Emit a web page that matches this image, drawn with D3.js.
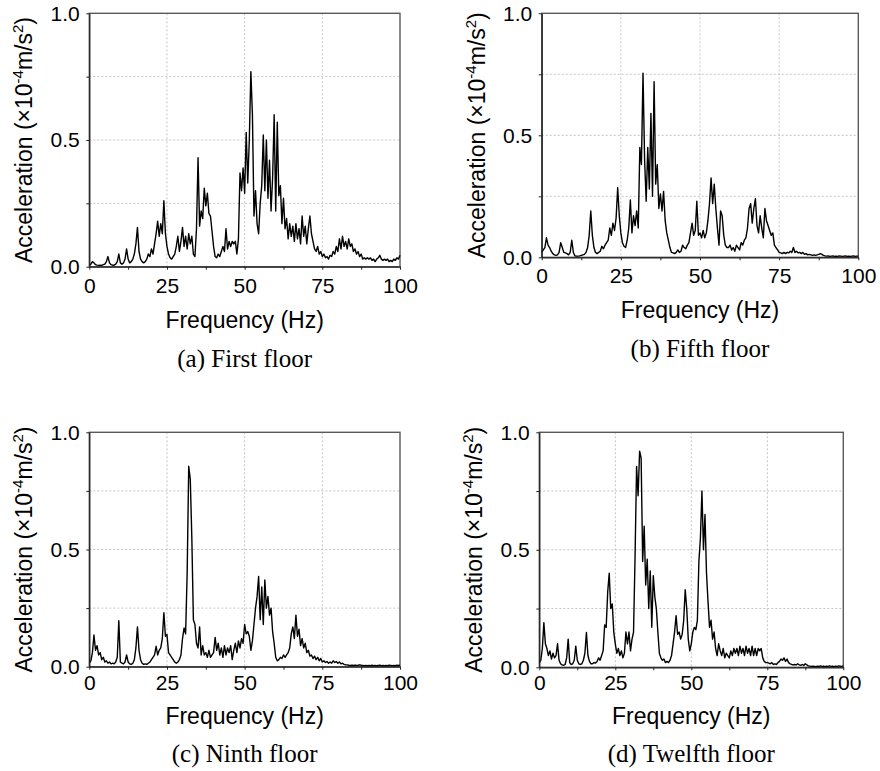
<!DOCTYPE html>
<html>
<head>
<meta charset="utf-8">
<script src="https://cdn.jsdelivr.net/npm/d3@7"></script>
<style>
  body { margin: 0; background: #fff; }
  svg { display: block; }
</style>
</head>
<body>
<div id="chart"></div>
<script>
// frequency grid in Hz (0.5 Hz step)
const freqs = d3.range(0, 100.01, 0.5);

const firstFloor = [
  0.005, 0.01, 0.02, 0.015, 0.008, 0.006, 0.005, 0.006, 0.005, 0.008,
  0.01, 0.02, 0.04, 0.015, 0.008, 0.006, 0.006, 0.01, 0.02, 0.05,
  0.015, 0.01, 0.015, 0.03, 0.07, 0.03, 0.015, 0.02, 0.03, 0.05,
  0.09, 0.155, 0.06, 0.03, 0.02, 0.015, 0.02, 0.03, 0.05, 0.04,
  0.07, 0.05, 0.09, 0.13, 0.18, 0.12, 0.17, 0.13, 0.26, 0.13,
  0.08, 0.05, 0.035, 0.03, 0.04, 0.05, 0.08, 0.12, 0.06, 0.1,
  0.155, 0.08, 0.12, 0.07, 0.13, 0.09, 0.12, 0.05, 0.04, 0.15,
  0.43, 0.16, 0.22, 0.19, 0.31, 0.24, 0.29, 0.21, 0.2, 0.14,
  0.08, 0.04, 0.035, 0.05, 0.04, 0.06, 0.08, 0.06, 0.15, 0.07,
  0.1, 0.08, 0.1, 0.09, 0.1, 0.05, 0.11, 0.37, 0.3, 0.39,
  0.29, 0.53, 0.33, 0.5, 0.77, 0.6, 0.2, 0.3, 0.17, 0.13,
  0.25, 0.32, 0.52, 0.3, 0.5, 0.27, 0.42, 0.22, 0.35, 0.6,
  0.22, 0.57, 0.28, 0.32, 0.17, 0.27, 0.15, 0.19, 0.11, 0.17,
  0.12, 0.16, 0.1, 0.17, 0.11, 0.15, 0.09, 0.2, 0.12, 0.16,
  0.09, 0.15, 0.2, 0.13, 0.1, 0.07, 0.06, 0.08, 0.05, 0.06,
  0.04, 0.05, 0.035, 0.04, 0.03, 0.045, 0.04, 0.06, 0.05, 0.08,
  0.06, 0.11, 0.07, 0.12, 0.08, 0.1, 0.07, 0.11, 0.08, 0.09,
  0.06, 0.07, 0.05, 0.06, 0.04, 0.05, 0.03, 0.035, 0.03, 0.035,
  0.03, 0.035, 0.025, 0.03, 0.02, 0.03, 0.035, 0.045, 0.03, 0.025,
  0.03, 0.025, 0.03, 0.02, 0.025, 0.02, 0.03, 0.025, 0.035, 0.03,
  0.045
];

const fifthFloor = [
  0.02, 0.03, 0.04, 0.08, 0.05, 0.04, 0.025, 0.015, 0.01, 0.008,
  0.01, 0.02, 0.06, 0.04, 0.02, 0.018, 0.015, 0.01, 0.02, 0.07,
  0.02, 0.006, 0.005, 0.005, 0.006, 0.008, 0.01, 0.012, 0.02, 0.04,
  0.09, 0.19, 0.09, 0.04, 0.02, 0.015, 0.02, 0.025, 0.045, 0.035,
  0.05, 0.06, 0.07, 0.12, 0.09, 0.14, 0.11, 0.16, 0.285, 0.17,
  0.1, 0.06, 0.045, 0.04, 0.07, 0.12, 0.235, 0.1, 0.17, 0.13,
  0.19, 0.12, 0.45, 0.38, 0.755, 0.4, 0.23, 0.45, 0.28, 0.59,
  0.25, 0.72, 0.3, 0.38, 0.2, 0.26, 0.19, 0.27, 0.15, 0.1,
  0.07, 0.04, 0.02, 0.018, 0.015, 0.02, 0.03, 0.02, 0.025, 0.05,
  0.04, 0.035, 0.05, 0.06, 0.1, 0.14, 0.09, 0.11, 0.23, 0.09,
  0.1, 0.08, 0.11, 0.08, 0.1, 0.15, 0.22, 0.325, 0.22, 0.3,
  0.2, 0.12, 0.05, 0.19, 0.17, 0.09, 0.05, 0.04, 0.04, 0.05,
  0.03, 0.04, 0.025, 0.05, 0.04, 0.03, 0.06, 0.05, 0.07, 0.08,
  0.12, 0.2, 0.22, 0.14, 0.2, 0.24, 0.13, 0.1, 0.17, 0.12,
  0.08, 0.2, 0.15, 0.13, 0.11, 0.09, 0.1, 0.05, 0.04, 0.03,
  0.02, 0.018, 0.015, 0.02, 0.015, 0.02, 0.018, 0.025, 0.02, 0.04,
  0.02, 0.025, 0.018, 0.02, 0.015, 0.02, 0.012, 0.015, 0.01, 0.012,
  0.01, 0.008, 0.01, 0.008, 0.01, 0.012, 0.015, 0.012, 0.008, 0.006,
  0.005, 0.006, 0.004, 0.005, 0.006, 0.004, 0.005, 0.004, 0.006, 0.005,
  0.004, 0.005, 0.006, 0.004, 0.005, 0.004, 0.005, 0.006, 0.004, 0.005,
  0.005
];

const ninthFloor = [
  0.015, 0.025, 0.06, 0.135, 0.07, 0.09, 0.05, 0.06, 0.03, 0.04,
  0.02, 0.025, 0.015, 0.02, 0.012, 0.015, 0.012, 0.02, 0.04, 0.196,
  0.02, 0.015, 0.012, 0.02, 0.05, 0.02, 0.012, 0.01, 0.015, 0.03,
  0.08, 0.17, 0.07, 0.03, 0.015, 0.01, 0.012, 0.01, 0.015, 0.02,
  0.03, 0.04, 0.05, 0.087, 0.05, 0.07, 0.08, 0.12, 0.23, 0.13,
  0.137, 0.06, 0.05, 0.04, 0.03, 0.02, 0.015, 0.02, 0.03, 0.05,
  0.12, 0.165, 0.14, 0.4, 0.855, 0.8, 0.55, 0.2, 0.18, 0.1,
  0.08, 0.17, 0.05, 0.09, 0.05, 0.06, 0.04, 0.07, 0.04, 0.05,
  0.06, 0.125, 0.07, 0.1, 0.05, 0.08, 0.04, 0.09, 0.05, 0.08,
  0.06, 0.09, 0.03, 0.07, 0.1, 0.06, 0.11, 0.08, 0.12, 0.1,
  0.18, 0.14, 0.15, 0.13, 0.07, 0.11, 0.18, 0.25, 0.3, 0.385,
  0.2, 0.34, 0.18, 0.37, 0.25, 0.3, 0.22, 0.25, 0.15, 0.1,
  0.04, 0.025, 0.03, 0.04, 0.035, 0.05, 0.04, 0.05, 0.06, 0.08,
  0.14, 0.17, 0.12, 0.22, 0.13, 0.16, 0.09, 0.12, 0.08, 0.1,
  0.06, 0.07, 0.045, 0.05, 0.035, 0.045, 0.03, 0.04, 0.025, 0.035,
  0.02, 0.025, 0.018, 0.022, 0.015, 0.02, 0.015, 0.025, 0.018, 0.022,
  0.015, 0.02, 0.012, 0.015, 0.01, 0.008, 0.008, 0.006, 0.005, 0.006,
  0.005, 0.007, 0.005, 0.006, 0.008, 0.006, 0.005, 0.004, 0.005, 0.004,
  0.005, 0.004, 0.006, 0.004, 0.005, 0.004, 0.005, 0.006, 0.004, 0.005,
  0.004, 0.005, 0.004, 0.006, 0.005, 0.004, 0.005, 0.004, 0.006, 0.005,
  0.006
];

const twelfthFloor = [
  0.02, 0.03, 0.08, 0.19, 0.1, 0.08, 0.05, 0.07, 0.035, 0.06,
  0.04, 0.05, 0.1, 0.03, 0.015, 0.01, 0.008, 0.012, 0.04, 0.12,
  0.02, 0.012, 0.015, 0.03, 0.09, 0.03, 0.015, 0.012, 0.015, 0.03,
  0.06, 0.148, 0.05, 0.025, 0.015, 0.015, 0.02, 0.018, 0.025, 0.04,
  0.03, 0.05, 0.07, 0.18, 0.17, 0.32, 0.4, 0.25, 0.27, 0.15,
  0.1, 0.06, 0.08, 0.05, 0.07, 0.04, 0.06, 0.15, 0.1, 0.15,
  0.07, 0.12, 0.15, 0.47, 0.855, 0.73, 0.92, 0.89, 0.45, 0.6,
  0.35, 0.46, 0.25, 0.41, 0.17, 0.39, 0.3, 0.25, 0.15, 0.06,
  0.04, 0.03, 0.035, 0.02, 0.025, 0.02, 0.03, 0.05, 0.1, 0.15,
  0.22, 0.14, 0.15, 0.12, 0.14, 0.2, 0.33, 0.25, 0.12, 0.07,
  0.1, 0.15, 0.17, 0.16, 0.2, 0.45, 0.55, 0.75, 0.5, 0.65,
  0.4, 0.28, 0.17, 0.2, 0.12, 0.15, 0.08, 0.05, 0.1, 0.07,
  0.05, 0.08, 0.04, 0.06, 0.05, 0.04, 0.07, 0.05, 0.08, 0.06,
  0.08, 0.05, 0.09, 0.06, 0.08, 0.05, 0.09, 0.06, 0.08, 0.05,
  0.09, 0.05, 0.08, 0.05, 0.08, 0.07, 0.08, 0.04, 0.025, 0.02,
  0.02, 0.018, 0.015, 0.02, 0.012, 0.015, 0.012, 0.02, 0.025, 0.035,
  0.03, 0.04, 0.025, 0.035, 0.02, 0.015, 0.012, 0.01, 0.012, 0.01,
  0.015, 0.01, 0.008, 0.012, 0.008, 0.015, 0.01, 0.006, 0.005, 0.004,
  0.005, 0.004, 0.003, 0.005, 0.004, 0.006, 0.004, 0.005, 0.003, 0.005,
  0.004, 0.006, 0.004, 0.005, 0.003, 0.005, 0.004, 0.006, 0.005, 0.004,
  0.006
];

const xTicks = [0, 12.5, 25, 37.5, 50, 62.5, 75, 87.5, 100];
const yTicks = [0, 0.25, 0.5, 0.75, 1.0];
const xGrid = [25, 50, 75];
const yGrid = [0.25, 0.5, 0.75];
const captions = ['(a) First floor', '(b) Fifth floor', '(c) Ninth floor', '(d) Twelfth floor'];
const series = [firstFloor, fifthFloor, ninthFloor, twelfthFloor];

// panel boxes in page pixels, plus text offsets below the x axis
const layout = [
  { left: 89.3, right: 400, top: 13.3, bottom: 266.7, tickOff: 26.6, titleOff: 61.6, capOff: 100 },
  { left: 541.7, right: 858.3, top: 13.3, bottom: 257.3, tickOff: 26, titleOff: 61, capOff: 99.4 },
  { left: 89.3, right: 400, top: 432.3, bottom: 666.7, tickOff: 23.5, titleOff: 56.8, capOff: 95 },
  { left: 539.3, right: 843.3, top: 432.3, bottom: 667.3, tickOff: 23, titleOff: 56.2, capOff: 94.4 }
];

const width = 880, height = 771;
const tickFont = 21, titleFont = 23, capFont = 25;
const sans = "'Liberation Sans', Arial, sans-serif";
const serif = "'Liberation Serif', 'Times New Roman', serif";

let svg = d3.select('#chart').append('svg')
  .attr('width', width)
  .attr('height', height);

series.forEach((values, i) => drawPanel(values, layout[i], captions[i]));

function drawPanel(values, box, caption) {
  let x = d3.scaleLinear().domain([0, 100]).range([box.left, box.right]);
  let y = d3.scaleLinear().domain([0, 1]).range([box.bottom, box.top]);
  let g = svg.append('g');

  // dotted grid
  g.selectAll('.vgrid')
    .data(xGrid)
    .enter().append('line')
    .attr('x1', d => x(d)).attr('x2', d => x(d))
    .attr('y1', box.top).attr('y2', box.bottom)
    .attr('stroke', '#c4c4c4')
    .attr('stroke-width', 1)
    .attr('stroke-dasharray', '2,2');

  g.selectAll('.hgrid')
    .data(yGrid)
    .enter().append('line')
    .attr('x1', box.left).attr('x2', box.right)
    .attr('y1', d => y(d)).attr('y2', d => y(d))
    .attr('stroke', '#c4c4c4')
    .attr('stroke-width', 1)
    .attr('stroke-dasharray', '2,2');

  // frame
  g.append('rect')
    .attr('x', box.left).attr('y', box.top)
    .attr('width', box.right - box.left)
    .attr('height', box.bottom - box.top)
    .attr('fill', 'none')
    .attr('stroke', '#5a5a5a')
    .attr('stroke-width', 1.4);

  // spectrum
  let line = d3.line()
    .x((d, j) => x(freqs[j]))
    .y(d => y(d));

  g.append('path')
    .datum(values)
    .attr('d', line)
    .attr('fill', 'none')
    .attr('stroke', '#000')
    .attr('stroke-width', 1.4)
    .attr('stroke-linejoin', 'round');

  // axes
  let tickSize = 3;
  let xAxis = d3.axisBottom(x)
    .tickValues(xTicks)
    .tickSize(tickSize)
    .tickSizeOuter(0)
    .tickPadding(box.tickOff - 0.71 * tickFont - tickSize)
    .tickFormat(d => d % 25 === 0 ? d : '');

  let yAxis = d3.axisLeft(y)
    .tickValues(yTicks)
    .tickSize(tickSize)
    .tickSizeOuter(0)
    .tickPadding(6.5)
    .tickFormat(d => d % 0.5 === 0 ? d3.format('.1f')(d) : '');

  [g.append('g').attr('transform', 'translate(0,' + box.bottom + ')').call(xAxis),
   g.append('g').attr('transform', 'translate(' + box.left + ',0)').call(yAxis)]
    .forEach(ax => {
      ax.select('.domain').attr('stroke', '#222').attr('stroke-width', 1.3);
      ax.selectAll('.tick line').attr('stroke', '#222').attr('stroke-width', 1);
      ax.selectAll('.tick text')
        .attr('fill', '#000')
        .style('font-family', sans)
        .style('font-size', tickFont + 'px');
    });

  // x title
  g.append('text')
    .attr('x', (box.left + box.right) / 2)
    .attr('y', box.bottom + box.titleOff)
    .attr('text-anchor', 'middle')
    .style('font-family', sans)
    .style('font-size', titleFont + 'px')
    .text('Frequency (Hz)');

  // y title with superscripts
  let yt = g.append('text')
    .attr('transform', 'rotate(-90)')
    .attr('x', -(box.top + box.bottom) / 2)
    .attr('y', box.left - 57)
    .attr('text-anchor', 'middle')
    .style('font-family', sans)
    .style('font-size', titleFont + 'px');
  yt.append('tspan').text('Acceleration (\u00d710');
  yt.append('tspan').attr('dy', -9).style('font-size', '15px').text('-4');
  yt.append('tspan').attr('dy', 9).text('m/s');
  yt.append('tspan').attr('dy', -9).style('font-size', '15px').text('2');
  yt.append('tspan').attr('dy', 9).text(')');

  // caption
  g.append('text')
    .attr('x', (box.left + box.right) / 2)
    .attr('y', box.bottom + box.capOff)
    .attr('text-anchor', 'middle')
    .style('font-family', serif)
    .style('font-size', capFont + 'px')
    .text(caption);
}
</script>
</body>
</html>
